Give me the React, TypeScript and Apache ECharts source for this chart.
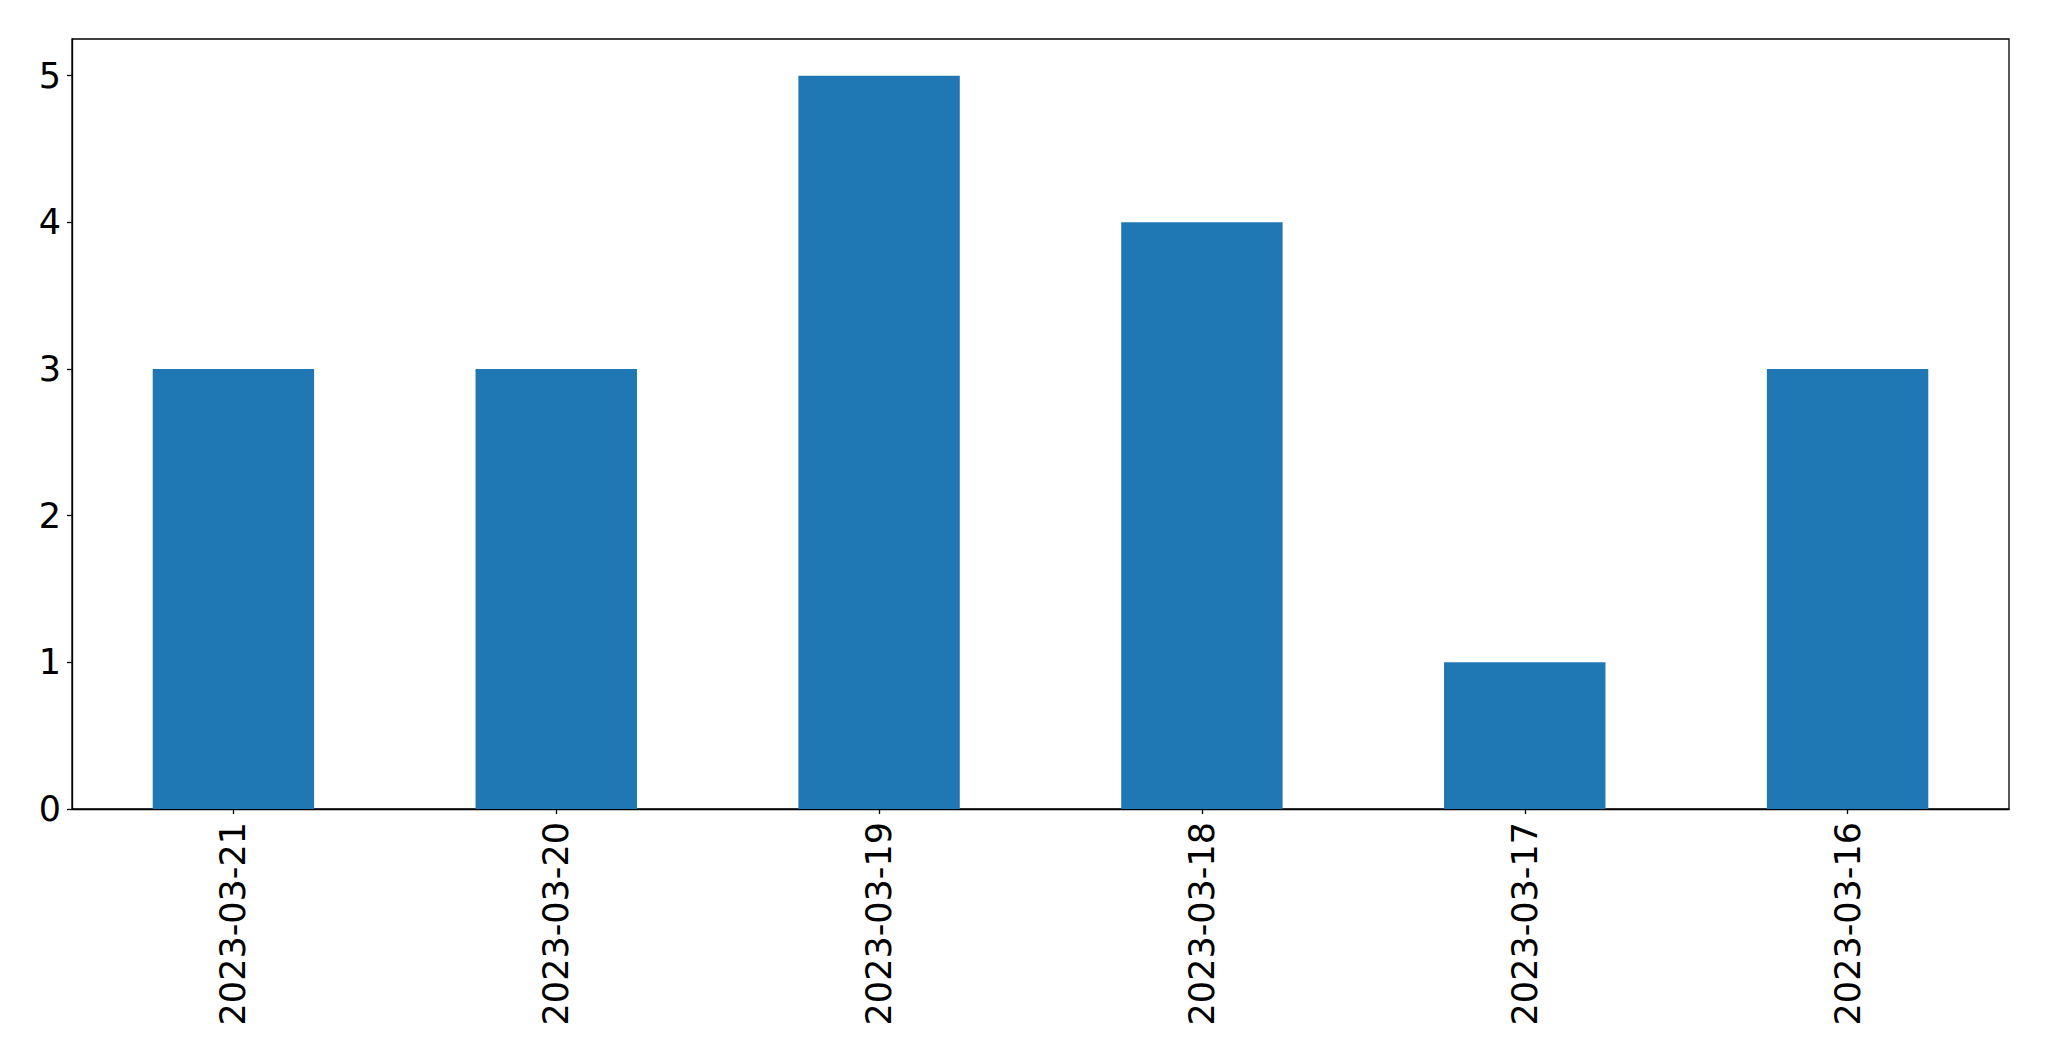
import React, { useEffect, useRef } from "react";
import * as echarts from "echarts";

const categories = ["2023-03-21", "2023-03-20", "2023-03-19", "2023-03-18", "2023-03-17", "2023-03-16"];
const values = [3, 3, 5, 4, 1, 3];
const yTicks = [0, 1, 2, 3, 4, 5];

export default function App() {
  const ref = useRef<HTMLDivElement>(null);
  useEffect(() => {
    document.body.style.margin = "0";
    const chart = echarts.init(ref.current!, undefined, { renderer: "svg" });
    const font = "DejaVu Sans";
    chart.setOption({
      animation: false,
      backgroundColor: "#ffffff",
      grid: {
        left: 72,
        top: 39,
        right: 40,
        bottom: 252,
        show: true,
        borderColor: "#000000",
        borderWidth: 1.3,
      },
      xAxis: {
        type: "category",
        data: categories,
        boundaryGap: true,
        axisLine: { show: true, lineStyle: { color: "#000000", width: 1.3 } },
        axisTick: { show: true, alignWithLabel: true, length: 5, lineStyle: { color: "#000000", width: 1.3 } },
        axisLabel: {
          rotate: 90,
          margin: 13,
          fontSize: 35,
          fontFamily: font,
          color: "#000000",
          interval: 0,
        },
        splitLine: { show: false },
      },
      yAxis: {
        type: "value",
        min: 0,
        max: 5.25,
        interval: 1,
        axisLine: { show: true, lineStyle: { color: "#000000", width: 1.3 } },
        axisTick: { show: true, length: 5, customValues: yTicks, lineStyle: { color: "#000000", width: 1.3 } },
        axisLabel: {
          margin: 11,
          fontSize: 35,
          fontFamily: font,
          color: "#000000",
          customValues: yTicks,
        },
        splitLine: { show: false },
      },
      series: [
        {
          type: "bar",
          data: values,
          barWidth: "50%",
          itemStyle: { color: "#1f77b4" },
        },
      ],
    });
    return () => chart.dispose();
  }, []);
  return <div ref={ref} style={{ width: 2049, height: 1061 }} />;
}
